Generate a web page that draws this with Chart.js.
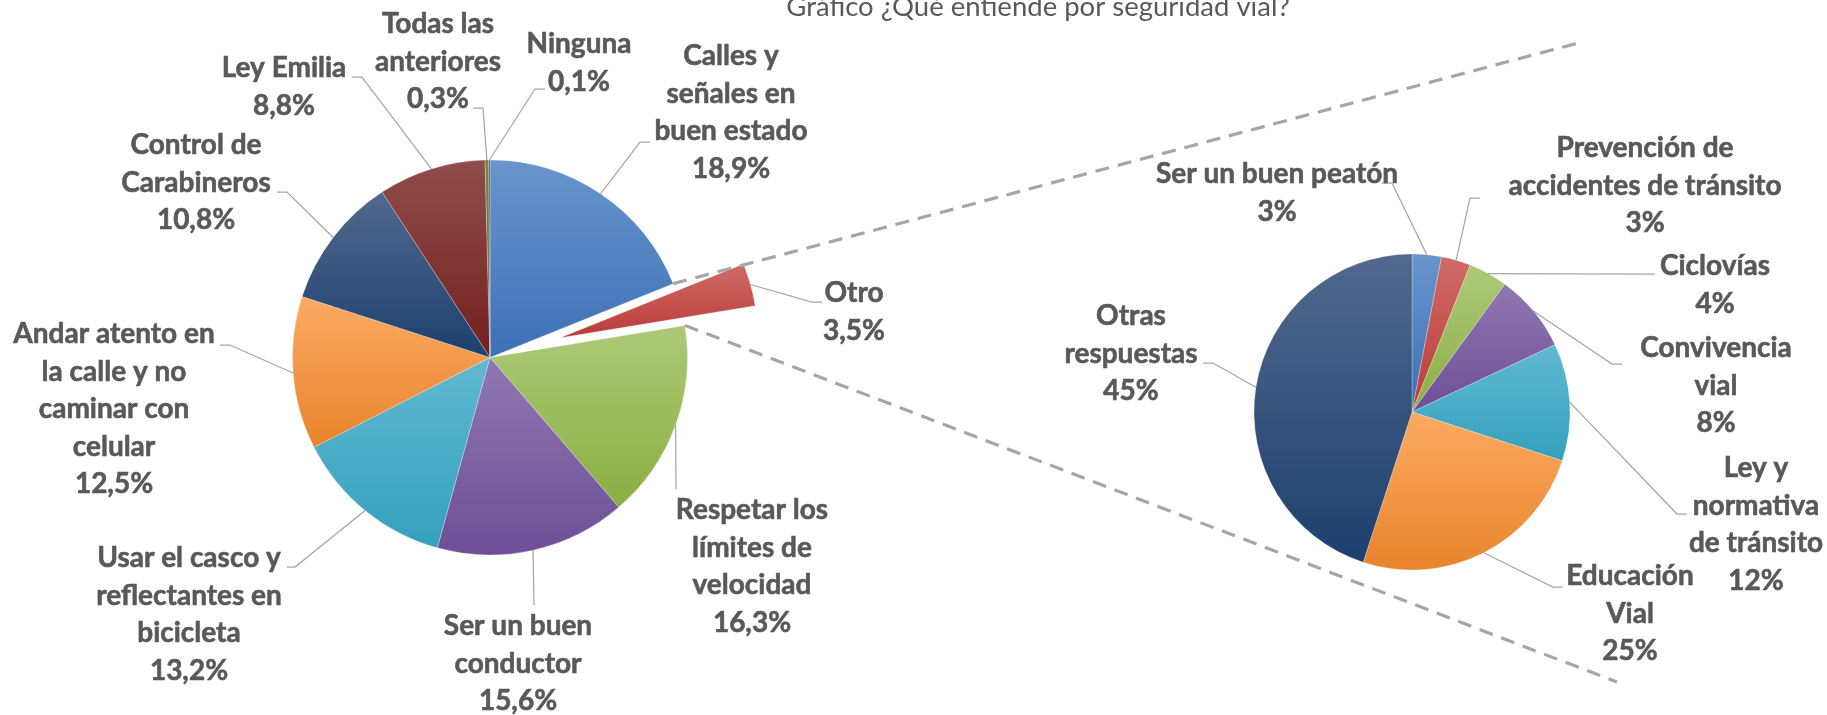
<!DOCTYPE html>
<html lang="es">
<head>
<meta charset="utf-8">
<title>¿Qué entiende por seguridad vial?</title>
<script src="https://cdn.jsdelivr.net/npm/chart.js"></script>
<style>
  html, body { margin: 0; padding: 0; background: #fff; }
  #wrap { position: relative; width: 1827px; height: 715px; overflow: hidden; }
  #wrap canvas { position: absolute; left: 0; top: 0; }
</style>
</head>
<body>
<div id="wrap">
  <canvas id="mainPie" width="1827" height="715"></canvas>
  <canvas id="subPie" width="1827" height="715"></canvas>
</div>
<script>
const titleText = "Gráfico ¿Qué entiende por seguridad vial?";

// first pie
const mainCategories = [
  ["Calles y", "señales en", "buen estado"],
  ["Otro"],
  ["Respetar los", "límites de", "velocidad"],
  ["Ser un buen", "conductor"],
  ["Usar el casco y", "reflectantes en", "bicicleta"],
  ["Andar atento en", "la calle y no", "caminar con", "celular"],
  ["Control de", "Carabineros"],
  ["Ley Emilia"],
  ["Todas las", "anteriores"],
  ["Ninguna"]
];
const mainValues = [18.9, 3.5, 16.3, 15.6, 13.2, 12.5, 10.8, 8.8, 0.3, 0.1];

// breakdown of "Otro"
const subCategories = [
  ["Ser un buen peatón"],
  ["Prevención de", "accidentes de tránsito"],
  ["Ciclovías"],
  ["Convivencia", "vial"],
  ["Ley y", "normativa", "de tránsito"],
  ["Educación", "Vial"],
  ["Otras", "respuestas"]
];
const subValues = [3, 3, 4, 8, 12, 25, 45];

// Excel-like gradient fills (top -> bottom of each slice)
const topColors = ["#6A95CD", "#CF6B67", "#ADC978", "#9078B1", "#62B9D1",
                   "#FCAA63", "#51698D", "#904D4B", "#71893F", "#5F4C78"];
const bottomColors = ["#3C70B5", "#BA3C38", "#8AAF42", "#6E4E97", "#34A0BE",
                      "#E8842C", "#1D3F6E", "#72201E", "#556D25", "#432F5A"];

const OTHER_INDEX = 1;
const mainExplode = [0, 73, 0, 0, 0, 0, 0, 0, 0, 0];

// label layout: centre x, first baseline, leader elbow and end x
const mainLabelPos = [
  { x: 731, y: 65, elbow: [640, 142], end: 650 },
  { x: 854, y: 302, elbow: [812, 302], end: 822 },
  { x: 752, y: 519, elbow: [676, 489], end: 676 },
  { x: 518, y: 635, elbow: [534, 605], end: 534 },
  { x: 189, y: 567, elbow: [295, 567], end: 287 },
  { x: 114, y: 343, elbow: [230, 345], end: 220 },
  { x: 196, y: 154, elbow: [287, 192], end: 277 },
  { x: 284, y: 77, elbow: [362, 77], end: 352 },
  { x: 438, y: 33, elbow: [483, 108], end: 473 },
  { x: 579, y: 53, elbow: [535, 89], end: 545 }
];
const subLabelPos = [
  { x: 1277, y: 183, elbow: [1392, 183], end: 1382 },
  { x: 1645, y: 157, elbow: [1470, 198], end: 1480 },
  { x: 1715, y: 275, elbow: [1645, 274], end: 1655 },
  { x: 1716, y: 357, elbow: [1612, 364], end: 1622 },
  { x: 1756, y: 477, elbow: [1677, 514], end: 1687 },
  { x: 1630, y: 585, elbow: [1553, 587], end: 1563 },
  { x: 1131, y: 325, elbow: [1213, 363], end: 1203 }
];
const connectorEnds = [[1578, 43], [1617, 682]];

const LINE_H = 37.5;
const labelFont = "bold 28px Lato";
const textColor = "#595959";
const leaderColor = "#A6A6A6";

function pct(values, i, digits) {
  const total = values.reduce((a, b) => a + b, 0);
  return (values[i] / total * 100).toFixed(digits).replace(".", ",") + "%";
}

function sliceGradient(ctx, arc, top, bottom) {
  const r = arc.outerRadius;
  const a0 = arc.startAngle, a1 = arc.endAngle;
  const ys = [arc.y, arc.y + r * Math.sin(a0), arc.y + r * Math.sin(a1)];
  [-Math.PI / 2, Math.PI / 2, 3 * Math.PI / 2].forEach((a) => {
    if (a > a0 && a < a1) ys.push(arc.y + r * Math.sin(a));
  });
  const g = ctx.createLinearGradient(0, Math.min(...ys), 0, Math.max(...ys));
  g.addColorStop(0, top);
  g.addColorStop(1, bottom);
  return g;
}

// moves exploded slices out and paints the gradients once geometry is known
function slicePaint(explode) {
  return {
    id: "slicePaint",
    afterDatasetsUpdate(chart) {
      chart.getDatasetMeta(0).data.forEach((arc, i) => {
        const d = explode[i] || 0;
        if (d) {
          const mid = (arc.startAngle + arc.endAngle) / 2;
          arc.x += Math.cos(mid) * d;
          arc.y += Math.sin(mid) * d;
        }
        arc.options.backgroundColor = sliceGradient(chart.ctx, arc, topColors[i], bottomColors[i]);
      });
    }
  };
}

function pieLabels(categories, values, positions, digits) {
  return {
    id: "pieLabels",
    afterDatasetsDraw(chart) {
      const ctx = chart.ctx;
      const arcs = chart.getDatasetMeta(0).data;
      ctx.save();
      ctx.strokeStyle = leaderColor;
      ctx.lineWidth = 1.25;
      arcs.forEach((arc, i) => {
        const p = positions[i];
        const mid = (arc.startAngle + arc.endAngle) / 2;
        ctx.beginPath();
        ctx.moveTo(arc.x + Math.cos(mid) * arc.outerRadius, arc.y + Math.sin(mid) * arc.outerRadius);
        ctx.lineTo(p.elbow[0], p.elbow[1]);
        ctx.lineTo(p.end, p.elbow[1]);
        ctx.stroke();
      });
      ctx.fillStyle = textColor;
      ctx.strokeStyle = textColor;
      ctx.lineWidth = 0.6;
      ctx.font = labelFont;
      ctx.textAlign = "center";
      ctx.textBaseline = "alphabetic";
      arcs.forEach((arc, i) => {
        const p = positions[i];
        const lines = categories[i].concat(pct(values, i, digits));
        lines.forEach((t, k) => {
          ctx.fillText(t, p.x, p.y + k * LINE_H);
          ctx.strokeText(t, p.x, p.y + k * LINE_H); // Calibri bold is a bit heavier
        });
      });
      ctx.restore();
    }
  };
}

// dashed lines from the "Otro" slice towards the second pie, plus the title
const connectors = {
  id: "connectors",
  afterDatasetsDraw(chart) {
    const area = chart.chartArea;
    const cx = (area.left + area.right) / 2;
    const cy = (area.top + area.bottom) / 2;
    const arc = chart.getDatasetMeta(0).data[OTHER_INDEX];
    const r = arc.outerRadius;
    const ctx = chart.ctx;
    ctx.save();
    ctx.strokeStyle = leaderColor;
    ctx.lineWidth = 3.2;
    ctx.setLineDash([14, 9]);
    [arc.startAngle, arc.endAngle].forEach((a, k) => {
      ctx.beginPath();
      ctx.moveTo(cx + Math.cos(a) * r, cy + Math.sin(a) * r);
      ctx.lineTo(connectorEnds[k][0], connectorEnds[k][1]);
      ctx.stroke();
    });
    ctx.setLineDash([]);
    ctx.fillStyle = textColor;
    ctx.font = "27.5px Lato";
    ctx.textAlign = "center";
    ctx.fillText(titleText, 1038, 16);
    ctx.restore();
  }
};

function pieOptions(padding) {
  return {
    responsive: false,
    animation: false,
    events: [],
    layout: { padding: padding },
    plugins: { legend: { display: false }, tooltip: { enabled: false }, title: { display: false } }
  };
}

new Chart(document.getElementById("mainPie").getContext("2d"), {
  type: "pie",
  data: {
    labels: mainCategories.map((c) => c.join(" ")),
    datasets: [{
      data: mainValues,
      radius: 197.5,
      backgroundColor: (c) => bottomColors[c.dataIndex],
      borderColor: "rgba(255,255,255,0.5)",
      borderWidth: 0.5
    }]
  },
  options: pieOptions({ left: 0, right: 847, top: 0, bottom: 0 }),
  plugins: [slicePaint(mainExplode), connectors, pieLabels(mainCategories, mainValues, mainLabelPos, 1)]
});

new Chart(document.getElementById("subPie").getContext("2d"), {
  type: "pie",
  data: {
    labels: subCategories.map((c) => c.join(" ")),
    datasets: [{
      data: subValues,
      radius: 158,
      backgroundColor: (c) => bottomColors[c.dataIndex],
      borderColor: "rgba(255,255,255,0.5)",
      borderWidth: 0.5
    }]
  },
  options: pieOptions({ left: 997, right: 0, top: 109, bottom: 0 }),
  plugins: [slicePaint([]), pieLabels(subCategories, subValues, subLabelPos, 0)]
});
</script>
</body>
</html>
